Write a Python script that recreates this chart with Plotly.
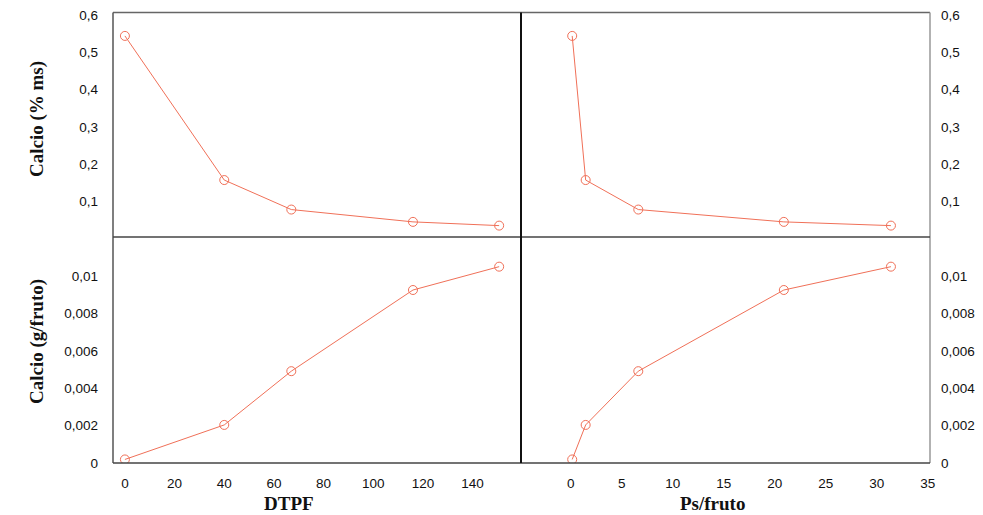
import plotly.graph_objects as go

# ---- data ----
dtpf = [0, 40, 67, 116, 150.7]
ps_fruto = [0.15, 1.47, 6.63, 20.9, 31.4]
calcio_ms = [0.544, 0.158, 0.079, 0.046, 0.036]
calcio_g = [0.00018, 0.00203, 0.00491, 0.00926, 0.01051]

top_ticks = [0.1, 0.2, 0.3, 0.4, 0.5, 0.6]
top_ticktext = ["0,1", "0,2", "0,3", "0,4", "0,5", "0,6"]
bot_ticks = [0, 0.002, 0.004, 0.006, 0.008, 0.01]
bot_ticktext = ["0", "0,002", "0,004", "0,006", "0,008", "0,01"]
dtpf_ticks = [0, 20, 40, 60, 80, 100, 120, 140]
ps_ticks = [0, 5, 10, 15, 20, 25, 30, 35]

W, H = 983, 515
L, R, T, B = 113, 930, 12.5, 463
XM, YM = 521, 237

def px(x):
    return x / W

def py(y):
    return 1 - y / H

LINE = "#F07058"
fig = go.Figure()
series = [
    (dtpf, calcio_ms, "x", "y"),
    (ps_fruto, calcio_ms, "x2", "y2"),
    (dtpf, calcio_g, "x3", "y3"),
    (ps_fruto, calcio_g, "x4", "y4"),
]
for xs, ys, xa, ya in series:
    fig.add_trace(go.Scatter(
        x=xs, y=ys, xaxis=xa, yaxis=ya, mode="lines+markers",
        line=dict(color=LINE, width=1),
        marker=dict(symbol="circle-open", size=9, color=LINE, line=dict(width=1, color=LINE)),
        showlegend=False, hoverinfo="x+y"))

tickfont = dict(family="Liberation Sans, Arial", size=13.5, color="#111")
common_x = dict(showgrid=False, zeroline=False, showline=False, ticks="", tickfont=tickfont, automargin=False)
common_y = dict(showgrid=False, zeroline=False, showline=False, ticks="", tickfont=tickfont, automargin=False)

xr_d = [-4.8, 159.5]
xr_p = [-4.87, 35.23]
yr_t = [0.0055, 0.6067]
yr_b = [-0.00001, 0.0121]

fig.update_layout(
    width=W, height=H,
    margin=dict(l=0, r=0, t=0, b=0),
    paper_bgcolor="white", plot_bgcolor="white",
    xaxis=dict(domain=[px(L), px(XM)], anchor="y", range=xr_d, showticklabels=False, **common_x),
    yaxis=dict(domain=[py(YM), py(T)], anchor="x", range=yr_t, tickvals=top_ticks, ticktext=top_ticktext,
               side="left", ticklabelstandoff=14, **common_y),
    xaxis2=dict(domain=[px(XM), px(R)], anchor="y2", range=xr_p, showticklabels=False, **common_x),
    yaxis2=dict(domain=[py(YM), py(T)], anchor="x2", range=yr_t, tickvals=top_ticks, ticktext=top_ticktext,
                side="right", ticklabelstandoff=10, **common_y),
    xaxis3=dict(domain=[px(L), px(XM)], anchor="y3", range=xr_d, tickvals=dtpf_ticks,
                ticktext=[str(v) for v in dtpf_ticks], ticklabelstandoff=10, **common_x),
    yaxis3=dict(domain=[py(B), py(YM)], anchor="x3", range=yr_b, tickvals=bot_ticks, ticktext=bot_ticktext,
                side="left", ticklabelstandoff=14, **common_y),
    xaxis4=dict(domain=[px(XM), px(R)], anchor="y4", range=xr_p, tickvals=ps_ticks,
                ticktext=[str(v) for v in ps_ticks], ticklabelstandoff=10, **common_x),
    yaxis4=dict(domain=[py(B), py(YM)], anchor="x4", range=yr_b, tickvals=bot_ticks, ticktext=bot_ticktext,
                side="right", ticklabelstandoff=10, **common_y),
)

shapes = [
    dict(x0=px(L), x1=px(R), y0=py(T), y1=py(T), color="#666", w=1.3),
    dict(x0=px(L), x1=px(L), y0=py(T), y1=py(B), color="#555", w=1.5),
    dict(x0=px(R), x1=px(R), y0=py(T), y1=py(B), color="#999", w=1.5),
    dict(x0=px(L), x1=px(R), y0=py(B), y1=py(B), color="#444", w=1.5),
    dict(x0=px(L), x1=px(R), y0=py(YM), y1=py(YM), color="#444", w=1.5),
    dict(x0=px(XM), x1=px(XM), y0=py(T), y1=py(B), color="#111", w=2),
]
for s in shapes:
    fig.add_shape(type="line", xref="paper", yref="paper", x0=s["x0"], x1=s["x1"],
                  y0=s["y0"], y1=s["y1"], line=dict(color=s["color"], width=s["w"]))

titlefont = dict(family="Liberation Serif, Times New Roman", size=19, color="#111")
anns = [
    dict(text="<b>Calcio (% ms)</b>", x=px(37), y=py(119), textangle=-90),
    dict(text="<b>Calcio (g/fruto)</b>", x=px(37), y=py(342), textangle=-90),
    dict(text="<b>DTPF</b>", x=px(289), y=py(503), textangle=0),
    dict(text="<b>Ps/fruto</b>", x=px(712), y=py(503), textangle=0),
]
for a in anns:
    fig.add_annotation(text=a["text"], x=a["x"], y=a["y"], xref="paper", yref="paper",
                       xanchor="center", yanchor="middle", textangle=a["textangle"],
                       showarrow=False, font=titlefont)

fig.write_html(
    "out.html",
    config={"displayModeBar": False},
    post_script="document.body.style.margin='0';document.body.style.padding='0';document.body.style.overflow='hidden';",
)
